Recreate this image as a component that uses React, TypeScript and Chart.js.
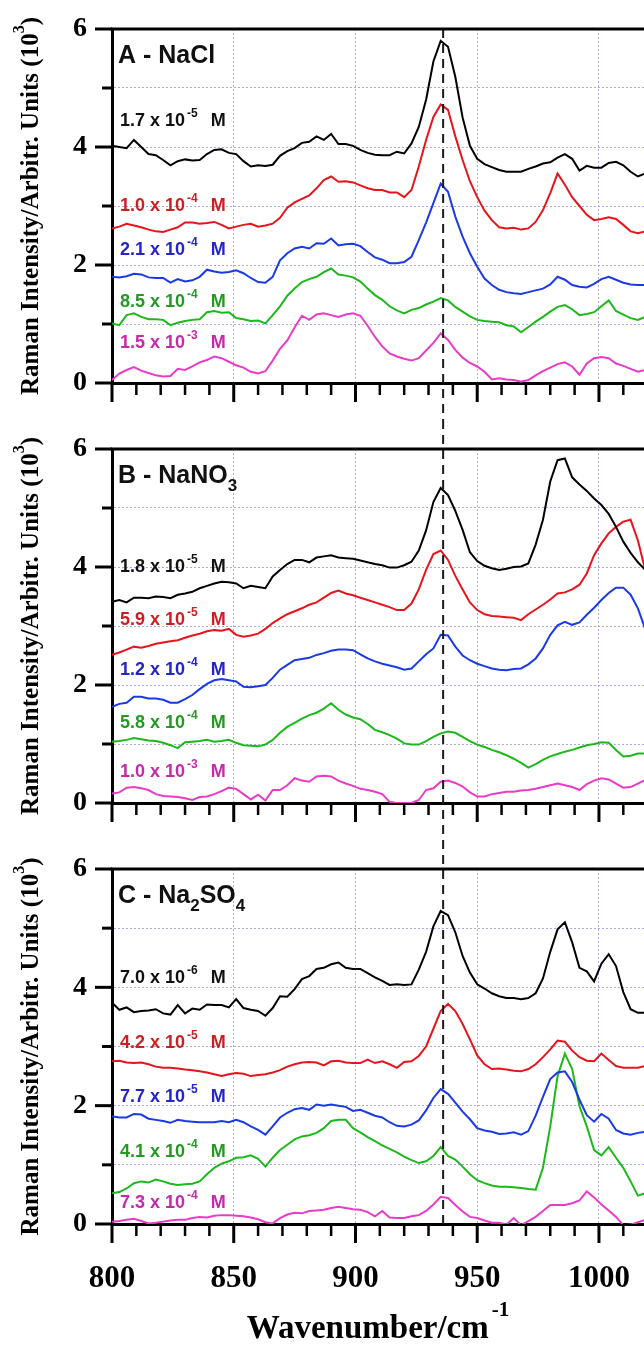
import React, { useEffect, useRef } from 'react';
import { Chart, registerables } from 'chart.js';

Chart.register(...registerables);

// ---------- shared x values (wavenumber, cm-1) ----------
const WAVENUMBER = [
  800, 803, 806, 809, 812, 815, 818, 821, 824, 827,
  830, 833, 836, 839, 842, 845, 848, 851, 854, 857,
  860, 863, 866, 869, 872, 875, 878, 881, 884, 887,
  890, 893, 896, 899, 902, 905, 908, 911, 914, 917,
  920, 923, 926, 929, 932, 935, 938, 941, 944, 947,
  950, 953, 956, 959, 962, 965, 968, 971, 974, 977,
  980, 983, 986, 989, 992, 995, 998, 1001, 1004, 1007,
  1010, 1013, 1016, 1019,
];

// ---------- Panel A - NaCl (values in 10^3) ----------
const A_BLACK = [
  4.02, 4.00, 3.98, 4.12, 4.00, 3.88, 3.86, 3.78, 3.69, 3.76,
  3.79, 3.77, 3.78, 3.88, 3.95, 3.96, 3.90, 3.88, 3.76, 3.67,
  3.69, 3.68, 3.70, 3.85, 3.93, 3.98, 4.07, 4.09, 4.18, 4.12,
  4.22, 4.05, 4.05, 4.02, 3.95, 3.90, 3.87, 3.86, 3.86, 3.92,
  3.89, 4.06, 4.34, 4.80, 5.45, 5.80, 5.70, 5.19, 4.50, 4.02,
  3.80, 3.71, 3.66, 3.61, 3.58, 3.58, 3.58, 3.63, 3.67, 3.72,
  3.74, 3.82, 3.88, 3.80, 3.60, 3.68, 3.65, 3.65, 3.73, 3.75,
  3.69, 3.58, 3.50, 3.55,
];
const A_RED = [
  2.62, 2.65, 2.70, 2.67, 2.64, 2.60, 2.57, 2.56, 2.60, 2.64,
  2.72, 2.72, 2.70, 2.71, 2.73, 2.68, 2.62, 2.65, 2.68, 2.70,
  2.65, 2.67, 2.70, 2.80, 2.97, 3.06, 3.12, 3.18, 3.30, 3.44,
  3.50, 3.41, 3.42, 3.40, 3.35, 3.30, 3.27, 3.27, 3.23, 3.23,
  3.15, 3.27, 3.67, 4.12, 4.51, 4.72, 4.63, 4.18, 3.78, 3.42,
  3.15, 2.92, 2.76, 2.64, 2.62, 2.63, 2.60, 2.62, 2.73, 2.93,
  3.22, 3.55, 3.36, 3.15, 3.00, 2.85, 2.76, 2.78, 2.81, 2.78,
  2.68, 2.57, 2.54, 2.57,
];
const A_BLUE = [
  1.80, 1.79, 1.81, 1.85, 1.84, 1.79, 1.78, 1.78, 1.70, 1.76,
  1.72, 1.74, 1.80, 1.92, 1.89, 1.87, 1.88, 1.91, 1.86, 1.78,
  1.71, 1.70, 1.80, 2.08, 2.20, 2.28, 2.31, 2.28, 2.37, 2.36,
  2.45, 2.33, 2.35, 2.36, 2.32, 2.22, 2.13, 2.09, 2.03, 2.03,
  2.05, 2.14, 2.42, 2.72, 3.05, 3.38, 3.24, 2.82, 2.48, 2.20,
  1.97, 1.77, 1.66, 1.58, 1.54, 1.52, 1.51, 1.54, 1.57, 1.60,
  1.67, 1.80, 1.75, 1.66, 1.63, 1.62, 1.68, 1.76, 1.80, 1.75,
  1.70, 1.67, 1.66, 1.66,
];
const A_GREEN = [
  1.01, 0.98, 1.15, 1.18, 1.12, 1.08, 1.08, 1.07, 0.98, 1.02,
  1.05, 1.07, 1.08, 1.20, 1.22, 1.19, 1.20, 1.10, 1.08, 1.05,
  1.06, 1.01, 1.15, 1.30, 1.48, 1.60, 1.71, 1.76, 1.80, 1.88,
  1.94, 1.84, 1.82, 1.79, 1.72, 1.60, 1.49, 1.41, 1.30, 1.23,
  1.18, 1.24, 1.27, 1.33, 1.38, 1.44, 1.40, 1.29, 1.21, 1.13,
  1.07, 1.05, 1.04, 1.03, 0.98, 0.96, 0.86, 0.95, 1.04, 1.12,
  1.21, 1.29, 1.32, 1.25, 1.15, 1.17, 1.20, 1.30, 1.40, 1.22,
  1.16, 1.10, 1.07, 1.12,
];
const A_MAGENTA = [
  0.05, 0.16, 0.22, 0.27, 0.21, 0.17, 0.13, 0.11, 0.12, 0.24,
  0.22, 0.28, 0.35, 0.39, 0.45, 0.42, 0.36, 0.30, 0.26, 0.19,
  0.16, 0.20, 0.38, 0.58, 0.72, 0.94, 1.14, 1.07, 1.16, 1.18,
  1.15, 1.12, 1.16, 1.18, 1.14, 0.97, 0.78, 0.62, 0.50, 0.45,
  0.41, 0.38, 0.42, 0.55, 0.68, 0.84, 0.73, 0.56, 0.43, 0.34,
  0.28, 0.19, 0.06, 0.08, 0.06, 0.05, 0.02, 0.05, 0.13, 0.20,
  0.26, 0.32, 0.35, 0.28, 0.14, 0.33, 0.42, 0.44, 0.42, 0.33,
  0.29, 0.24, 0.19, 0.22,
];
const A_MANTISSA = ['1.7', '1.0', '2.1', '8.5', '1.5'];
const A_EXPONENT = ['-5', '-4', '-4', '-4', '-3'];
const A_LABEL_Y = [4.36, 2.92, 2.17, 1.29, 0.59];

// ---------- Panel B - NaNO3 ----------
const B_BLACK = [
  3.41, 3.44, 3.40, 3.48, 3.48, 3.47, 3.50, 3.49, 3.47, 3.53,
  3.55, 3.58, 3.64, 3.68, 3.72, 3.75, 3.74, 3.72, 3.64, 3.68,
  3.66, 3.64, 3.84, 3.95, 4.05, 4.12, 4.12, 4.08, 4.16, 4.18,
  4.20, 4.16, 4.15, 4.14, 4.11, 4.08, 4.05, 4.03, 3.99, 3.99,
  4.03, 4.09, 4.28, 4.62, 5.10, 5.34, 5.22, 4.95, 4.63, 4.25,
  4.10, 4.02, 3.98, 3.95, 3.97, 4.00, 4.01, 4.06, 4.38, 4.80,
  5.45, 5.81, 5.84, 5.52, 5.40, 5.29, 5.16, 5.05, 4.90, 4.68,
  4.43, 4.24, 4.08, 3.95,
];
const B_RED = [
  2.51, 2.55, 2.60, 2.65, 2.63, 2.66, 2.70, 2.72, 2.74, 2.76,
  2.80, 2.84, 2.87, 2.91, 2.93, 2.92, 2.95, 2.85, 2.82, 2.84,
  2.87, 2.95, 3.05, 3.13, 3.20, 3.25, 3.30, 3.36, 3.40, 3.48,
  3.56, 3.60, 3.55, 3.52, 3.48, 3.44, 3.40, 3.36, 3.32, 3.27,
  3.27, 3.38, 3.62, 3.95, 4.22, 4.28, 4.12, 3.85, 3.62, 3.40,
  3.27, 3.20, 3.17, 3.16, 3.15, 3.14, 3.10, 3.20, 3.28, 3.36,
  3.45, 3.55, 3.57, 3.62, 3.70, 3.89, 4.20, 4.40, 4.57, 4.68,
  4.77, 4.80, 4.45, 3.95,
];
const B_BLUE = [
  1.63, 1.68, 1.70, 1.80, 1.80, 1.77, 1.77, 1.75, 1.70, 1.70,
  1.76, 1.83, 1.93, 2.02, 2.08, 2.10, 2.08, 2.06, 1.97, 1.96,
  1.98, 2.00, 2.12, 2.26, 2.34, 2.42, 2.44, 2.46, 2.51, 2.54,
  2.58, 2.60, 2.60, 2.59, 2.52, 2.45, 2.40, 2.36, 2.33, 2.30,
  2.26, 2.28, 2.40, 2.52, 2.62, 2.85, 2.84, 2.65, 2.50, 2.42,
  2.36, 2.32, 2.28, 2.26, 2.25, 2.27, 2.28, 2.35, 2.45, 2.62,
  2.85, 3.01, 3.07, 3.02, 3.06, 3.19, 3.31, 3.44, 3.56, 3.65,
  3.65, 3.53, 3.30, 2.95,
];
const B_GREEN = [
  1.04, 1.05, 1.07, 1.10, 1.08, 1.06, 1.05, 1.02, 0.98, 0.93,
  1.03, 1.04, 1.05, 1.07, 1.04, 1.05, 1.07, 1.02, 0.98, 0.97,
  0.96, 0.99, 1.07, 1.19, 1.29, 1.36, 1.43, 1.49, 1.53, 1.60,
  1.69, 1.58, 1.50, 1.45, 1.42, 1.34, 1.24, 1.20, 1.15, 1.09,
  1.01, 0.99, 0.99, 1.05, 1.12, 1.18, 1.21, 1.19, 1.12, 1.05,
  0.99, 0.95, 0.90, 0.86, 0.81, 0.75, 0.68, 0.60, 0.66, 0.73,
  0.79, 0.83, 0.87, 0.90, 0.94, 0.98, 1.00, 1.03, 1.02, 0.90,
  0.79, 0.80, 0.84, 0.84,
];
const B_MAGENTA = [
  0.16, 0.18, 0.26, 0.27, 0.25, 0.22, 0.15, 0.12, 0.11, 0.10,
  0.08, 0.05, 0.10, 0.11, 0.15, 0.20, 0.26, 0.24, 0.15, 0.06,
  0.14, 0.04, 0.22, 0.22, 0.30, 0.42, 0.38, 0.36, 0.45, 0.46,
  0.45, 0.38, 0.33, 0.29, 0.24, 0.22, 0.19, 0.15, 0.02, 0.00,
  0.00, 0.00, 0.05, 0.22, 0.25, 0.36, 0.38, 0.34, 0.28, 0.18,
  0.11, 0.11, 0.15, 0.17, 0.19, 0.19, 0.21, 0.22, 0.24, 0.27,
  0.30, 0.33, 0.30, 0.27, 0.22, 0.32, 0.38, 0.42, 0.40, 0.33,
  0.26, 0.27, 0.33, 0.39,
];
const B_MANTISSA = ['1.8', '5.9', '1.2', '5.8', '1.0'];
const B_EXPONENT = ['-5', '-5', '-4', '-4', '-3'];
const B_LABEL_Y = [3.92, 3.02, 2.17, 1.27, 0.44];

// ---------- Panel C - Na2SO4 ----------
const C_BLACK = [
  3.74, 3.62, 3.66, 3.58, 3.60, 3.61, 3.63, 3.56, 3.54, 3.70,
  3.56, 3.64, 3.62, 3.71, 3.70, 3.70, 3.66, 3.80, 3.65, 3.62,
  3.60, 3.52, 3.65, 3.85, 3.84, 3.97, 4.14, 4.19, 4.31, 4.33,
  4.39, 4.42, 4.33, 4.31, 4.31, 4.24, 4.17, 4.11, 4.04, 4.05,
  4.04, 4.05, 4.30, 4.60, 5.03, 5.29, 5.22, 4.93, 4.53, 4.25,
  4.05, 3.98, 3.90, 3.85, 3.82, 3.82, 3.80, 3.82, 3.90, 4.15,
  4.60, 4.98, 5.10, 4.76, 4.33, 4.27, 4.10, 4.40, 4.56, 4.36,
  3.92, 3.63, 3.57, 3.57,
];
const C_RED = [
  2.75, 2.76, 2.73, 2.72, 2.73, 2.70, 2.66, 2.64, 2.64, 2.63,
  2.61, 2.60, 2.58, 2.56, 2.53, 2.50, 2.53, 2.55, 2.54, 2.50,
  2.52, 2.53, 2.56, 2.60, 2.66, 2.70, 2.73, 2.74, 2.73, 2.68,
  2.75, 2.76, 2.73, 2.72, 2.72, 2.78, 2.72, 2.75, 2.70, 2.64,
  2.74, 2.75, 2.84, 3.00, 3.30, 3.60, 3.72, 3.60, 3.38, 3.12,
  2.85, 2.70, 2.62, 2.63, 2.61, 2.59, 2.58, 2.62, 2.70, 2.82,
  2.95, 3.10, 3.08, 2.93, 2.82, 2.76, 2.75, 2.88, 2.77, 2.67,
  2.64, 2.64, 2.64, 2.67,
];
const C_BLUE = [
  1.82, 1.80, 1.80, 1.86, 1.85, 1.78, 1.76, 1.74, 1.71, 1.76,
  1.74, 1.73, 1.72, 1.72, 1.72, 1.74, 1.72, 1.76, 1.72, 1.65,
  1.59, 1.51, 1.65, 1.80, 1.88, 1.94, 1.96, 1.93, 2.02, 2.00,
  2.02, 2.00, 1.98, 1.91, 1.93, 1.88, 1.83, 1.80, 1.72, 1.66,
  1.65, 1.68, 1.75, 1.92, 2.13, 2.28, 2.20, 2.05, 1.90, 1.77,
  1.62, 1.58, 1.56, 1.52, 1.53, 1.55, 1.51, 1.57, 1.83, 2.15,
  2.45, 2.56, 2.58, 2.40, 2.10, 1.84, 1.73, 1.86, 1.78, 1.59,
  1.53, 1.51, 1.54, 1.56,
];
const C_GREEN = [
  0.52, 0.54, 0.60, 0.69, 0.72, 0.70, 0.75, 0.72, 0.68, 0.66,
  0.67, 0.68, 0.72, 0.84, 0.95, 1.02, 1.06, 1.12, 1.13, 1.16,
  1.10, 0.97, 1.12, 1.25, 1.34, 1.43, 1.48, 1.50, 1.54, 1.62,
  1.74, 1.76, 1.76, 1.62, 1.55, 1.47, 1.40, 1.33, 1.27, 1.21,
  1.14, 1.08, 1.03, 1.06, 1.15, 1.30, 1.15, 1.09, 0.97, 0.84,
  0.74, 0.69, 0.65, 0.63, 0.63, 0.62, 0.61, 0.59, 0.58, 0.95,
  1.65, 2.50, 2.88, 2.62, 1.99, 1.65, 1.25, 1.16, 1.30, 1.12,
  0.95, 0.72, 0.48, 0.52,
];
const C_MAGENTA = [
  0.04, 0.05, 0.07, 0.09, 0.05, 0.01, 0.02, 0.04, 0.06, 0.07,
  0.07, 0.10, 0.12, 0.11, 0.14, 0.15, 0.15, 0.14, 0.13, 0.11,
  0.08, 0.03, 0.01, 0.10, 0.16, 0.19, 0.18, 0.22, 0.23, 0.24,
  0.27, 0.29, 0.27, 0.25, 0.24, 0.20, 0.13, 0.22, 0.11, 0.10,
  0.10, 0.13, 0.15, 0.22, 0.33, 0.46, 0.44, 0.32, 0.21, 0.12,
  0.10, 0.06, 0.02, 0.02, -0.01, 0.10, -0.02, 0.05, 0.12, 0.22,
  0.32, 0.32, 0.32, 0.35, 0.40, 0.55, 0.45, 0.33, 0.23, 0.12,
  -0.02, -0.01, 0.03, 0.07,
];
const C_MANTISSA = ['7.0', '4.2', '7.7', '4.1', '7.3'];
const C_EXPONENT = ['-6', '-5', '-5', '-4', '-4'];
const C_LABEL_Y = [4.08, 2.98, 2.07, 1.14, 0.27];

// ---------- axes ----------
const X_MIN = 800;
const X_MAX = 1018.5;
const X_MAJOR_STEP = 50;
const X_MINOR_STEP = 10;
const Y_MIN = 0;
const Y_MAX = 6;
const MARKER_X = 936;
const Y_TITLE = 'Raman Intensity/Arbitr. Units (10';
const X_TITLE = 'Wavenumber/cm';

// ---------- styles ----------
const SERIF = "'Liberation Serif', 'Times New Roman', Times, serif";
const SANS = "'Liberation Sans', Arial, Helvetica, sans-serif";
const LINE_COLORS = ['#000000', '#e8141c', '#1a3ae6', '#1cb81c', '#e83cc8'];
const TEXT_COLORS = ['#111111', '#cc1f24', '#2424c8', '#239a23', '#c42aaa'];
const GRID_COLOR = '#a8a8e4';
const CANVAS_W = 644;
const Y_AXIS_W = 112;
const PAD_TOP = 29;

type Seg = { t: string; k?: 'sup' | 'sub'; gap?: number };

function drawSegs(ctx: any, segs: Seg[], x: number, y: number, size: number, family: string, color: string, small = 0.66, raise = 0.5, drop = 0.3) {
  ctx.save();
  ctx.fillStyle = color;
  ctx.textBaseline = 'alphabetic';
  ctx.textAlign = 'left';
  let cx = x;
  for (const s of segs) {
    cx += s.gap || 0;
    const isSmall = s.k === 'sup' || s.k === 'sub';
    const fs = isSmall ? Math.round(size * small) : size;
    ctx.font = `bold ${fs}px ${family}`;
    const dy = s.k === 'sup' ? -size * raise : s.k === 'sub' ? size * drop : 0;
    ctx.fillText(s.t, cx, y + dy);
    cx += ctx.measureText(s.t).width;
  }
  ctx.restore();
}

function segsWidth(ctx: any, segs: Seg[], size: number, family: string, small = 0.66) {
  ctx.save();
  let w = 0;
  for (const s of segs) {
    w += s.gap || 0;
    const isSmall = s.k === 'sup' || s.k === 'sub';
    ctx.font = `bold ${isSmall ? Math.round(size * small) : size}px ${family}`;
    w += ctx.measureText(s.t).width;
  }
  ctx.restore();
  return w;
}

interface PanelSpec {
  title: Seg[];
  series: number[][];
  mantissa: string[];
  exponent: string[];
  labelY: number[];
  height: number;
  axisHeight: number;
  showX: boolean;
  dashFromCanvasTop: boolean;
  dashToCanvasBottom: boolean;
}

const PANELS: PanelSpec[] = [
  {
    title: [{ t: 'A - NaCl' }],
    series: [A_BLACK, A_RED, A_BLUE, A_GREEN, A_MAGENTA],
    mantissa: A_MANTISSA, exponent: A_EXPONENT, labelY: A_LABEL_Y,
    height: 420, axisHeight: 37, showX: false, dashFromCanvasTop: false, dashToCanvasBottom: true,
  },
  {
    title: [{ t: 'B - NaNO' }, { t: '3', k: 'sub' }],
    series: [B_BLACK, B_RED, B_BLUE, B_GREEN, B_MAGENTA],
    mantissa: B_MANTISSA, exponent: B_EXPONENT, labelY: B_LABEL_Y,
    height: 420, axisHeight: 37, showX: false, dashFromCanvasTop: true, dashToCanvasBottom: true,
  },
  {
    title: [{ t: 'C - Na' }, { t: '2', k: 'sub' }, { t: 'SO' }, { t: '4', k: 'sub' }],
    series: [C_BLACK, C_RED, C_BLUE, C_GREEN, C_MAGENTA],
    mantissa: C_MANTISSA, exponent: C_EXPONENT, labelY: C_LABEL_Y,
    height: 510, axisHeight: 126, showX: true, dashFromCanvasTop: true, dashToCanvasBottom: false,
  },
];

function decorPlugin(spec: PanelSpec) {
  return {
    id: 'decor',
    afterDatasetsDraw(chart: any) {
      const { ctx, chartArea: ca, scales } = chart;
      const mx = scales.x.getPixelForValue(MARKER_X);
      ctx.save();
      ctx.strokeStyle = '#1a1a1a';
      ctx.lineWidth = 2;
      ctx.setLineDash([9, 6]);
      ctx.beginPath();
      ctx.moveTo(mx, spec.dashFromCanvasTop ? 0 : ca.top);
      ctx.lineTo(mx, spec.dashToCanvasBottom ? chart.height : ca.bottom + 4);
      ctx.stroke();
      ctx.restore();
    },
    afterDraw(chart: any) {
      const { ctx, chartArea: ca, scales } = chart;
      const xs = scales.x;
      const ys = scales.y;
      ctx.save();
      ctx.strokeStyle = '#000';
      ctx.setLineDash([]);
      // top frame
      ctx.lineWidth = 3;
      ctx.beginPath();
      ctx.moveTo(ca.left - 1.5, ca.top);
      ctx.lineTo(ca.right, ca.top);
      ctx.stroke();
      // x ticks (major / minor, outward)
      for (let v = X_MIN; v <= X_MAX; v += X_MINOR_STEP) {
        const px = xs.getPixelForValue(v);
        const major = v % X_MAJOR_STEP === 0;
        ctx.lineWidth = major ? 3 : 2.5;
        ctx.beginPath();
        ctx.moveTo(px, ca.bottom);
        ctx.lineTo(px, ca.bottom + (major ? 19 : 12));
        ctx.stroke();
      }
      // y ticks
      for (let v = Y_MIN; v <= Y_MAX; v += 1) {
        const py = ys.getPixelForValue(v);
        const major = v % 2 === 0;
        ctx.lineWidth = 3;
        ctx.beginPath();
        ctx.moveTo(ca.left - (major ? 17 : 10), py);
        ctx.lineTo(ca.left, py);
        ctx.stroke();
      }
      ctx.restore();

      // panel title
      drawSegs(ctx, spec.title, ca.left + 6, ca.top + 34, 25, SANS, '#111', 0.68, 0.5, 0.3);
      // concentration labels
      spec.mantissa.forEach((m, i) => {
        const segs: Seg[] = [
          { t: `${m} x 10` },
          { t: spec.exponent[i], k: 'sup', gap: 2 },
          { t: 'M', gap: 13 },
        ];
        drawSegs(ctx, segs, ca.left + 8, ys.getPixelForValue(spec.labelY[i]), 18, SANS, TEXT_COLORS[i], 0.67, 0.5, 0.3);
      });

      // y-axis title (rotated)
      const ySegs: Seg[] = [{ t: Y_TITLE }, { t: '3', k: 'sup' }, { t: ')' }];
      const ySize = 25;
      const yw = segsWidth(ctx, ySegs, ySize, SERIF, 0.64);
      ctx.save();
      ctx.translate(37.5, (ca.top + ca.bottom) / 2);
      ctx.rotate(-Math.PI / 2);
      drawSegs(ctx, ySegs, -yw / 2, 0, ySize, SERIF, '#000', 0.64, 0.55, 0.3);
      ctx.restore();

      // x-axis title
      if (spec.showX) {
        const xSegs: Seg[] = [{ t: X_TITLE }, { t: '-1', k: 'sup', gap: 3 }];
        const xSize = 33;
        const xw = segsWidth(ctx, xSegs, xSize, SERIF, 0.64);
        drawSegs(ctx, xSegs, (ca.left + ca.right) / 2 - xw / 2, chart.height - 12, xSize, SERIF, '#000', 0.64, 0.66, 0.3);
      }
    },
  };
}

function makeConfig(spec: PanelSpec): any {
  const datasets = spec.series.map((vals, i) => ({
    label: `${spec.mantissa[i]} x 10^${spec.exponent[i]} M`,
    data: WAVENUMBER.map((x, j) => ({ x, y: vals[j] })),
    borderColor: LINE_COLORS[i],
    backgroundColor: LINE_COLORS[i],
    borderWidth: 2,
    pointRadius: 0,
    tension: 0,
    fill: false,
  }));
  return {
    type: 'line',
    data: { datasets },
    options: {
      responsive: false,
      animation: false,
      devicePixelRatio: 1,
      events: [],
      layout: { padding: { top: PAD_TOP, left: 0, right: 0, bottom: 0 } },
      plugins: { legend: { display: false }, tooltip: { enabled: false }, title: { display: false } },
      scales: {
        x: {
          type: 'linear',
          position: 'bottom',
          min: X_MIN,
          max: X_MAX,
          ticks: {
            stepSize: X_MAJOR_STEP,
            includeBounds: false,
            display: spec.showX,
            autoSkip: false,
            maxRotation: 0,
            padding: 36,
            color: '#000',
            font: { family: SERIF, size: 31, weight: 'bold' },
            callback: (v: any) => String(v),
          },
          grid: { color: GRID_COLOR, lineWidth: 1, drawTicks: false },
          border: { display: true, color: '#000', width: 3, dash: [2, 2] },
          afterFit: (scale: any) => {
            scale.height = spec.axisHeight;
            scale.paddingLeft = 0;
            scale.paddingRight = 0;
          },
        },
        y: {
          type: 'linear',
          position: 'left',
          min: Y_MIN,
          max: Y_MAX,
          ticks: {
            stepSize: 1,
            autoSkip: false,
            padding: 25,
            color: '#000',
            font: { family: SERIF, size: 28, weight: 'bold' },
            callback: (v: any) => (Number(v) % 2 === 0 ? String(v) : ''),
          },
          grid: { color: GRID_COLOR, lineWidth: 1, drawTicks: false },
          border: { display: true, color: '#000', width: 3, dash: [2, 2] },
          title: { display: false },
          afterFit: (scale: any) => {
            scale.width = Y_AXIS_W;
            scale.paddingTop = 0;
            scale.paddingBottom = 0;
          },
        },
      },
    },
    plugins: [decorPlugin(spec)],
  };
}

function Panel({ spec }: { spec: PanelSpec }) {
  const ref = useRef<HTMLCanvasElement | null>(null);
  useEffect(() => {
    if (!ref.current) return;
    const chart = new Chart(ref.current, makeConfig(spec));
    return () => chart.destroy();
  }, [spec]);
  return (
    <canvas
      ref={ref}
      width={CANVAS_W}
      height={spec.height}
      style={{ display: 'block', width: CANVAS_W, height: spec.height }}
    />
  );
}

export default function App() {
  return (
    <div style={{ position: 'absolute', left: 0, top: 0, width: CANVAS_W, background: '#fff' }}>
      {PANELS.map((p, i) => (
        <Panel key={i} spec={p} />
      ))}
    </div>
  );
}
